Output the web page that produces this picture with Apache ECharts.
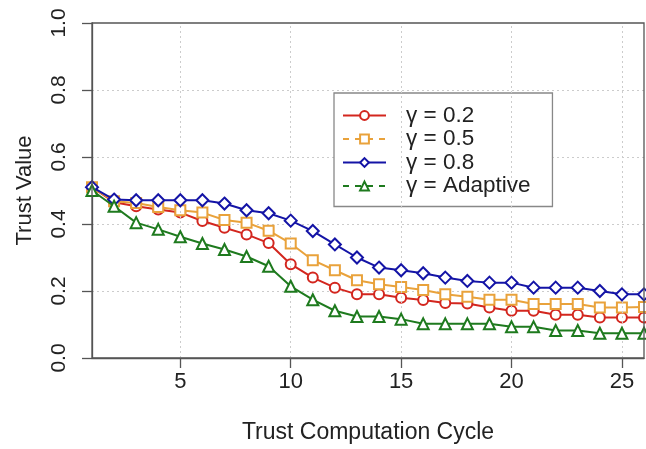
<!DOCTYPE html>
<html>
<head>
<meta charset="utf-8">
<script src="https://cdn.jsdelivr.net/npm/echarts@6/dist/echarts.min.js"></script>
<style>html,body{margin:0;padding:0;background:#fff;}#c{width:646px;height:449px;}</style>
</head>
<body>
<div id="c"></div>
<script>
const cycles = [1,2,3,4,5,6,7,8,9,10,11,12,13,14,15,16,17,18,19,20,21,22,23,24,25,26];
const gamma02 = [0.51,0.465,0.453,0.443,0.434,0.409,0.389,0.369,0.343,0.28,0.24,0.21,0.19,0.19,0.18,0.173,0.164,0.163,0.151,0.141,0.141,0.129,0.129,0.121,0.121,0.121];
const gamma05 = [0.51,0.468,0.463,0.451,0.441,0.434,0.412,0.404,0.38,0.342,0.292,0.262,0.232,0.22,0.212,0.203,0.19,0.183,0.174,0.174,0.161,0.161,0.161,0.151,0.151,0.152];
const gamma08 = [0.51,0.473,0.471,0.471,0.471,0.471,0.461,0.441,0.432,0.41,0.379,0.339,0.30,0.27,0.262,0.253,0.24,0.23,0.225,0.225,0.21,0.21,0.21,0.20,0.19,0.19];
const gammaAdaptive = [0.50,0.453,0.404,0.384,0.362,0.342,0.324,0.303,0.274,0.214,0.174,0.141,0.124,0.124,0.116,0.102,0.102,0.102,0.102,0.093,0.093,0.082,0.082,0.074,0.074,0.074];
const xTicks = [5,10,15,20,25];
const seriesNames = ['\u03b3 = 0.2','\u03b3 = 0.5','\u03b3 = 0.8','\u03b3 = Adaptive'];

const colors = ['#D3261E','#E9A23B','#1414A6','#1E7A1E'];
const symbols = ['emptyCircle','emptyRect','emptyDiamond','emptyTriangle'];
const sizes = [10,10,12,11];
const dataSets = [gamma02,gamma05,gamma08,gammaAdaptive];
const dashed = [false,true,false,true];
const font = 'Liberation Sans, Arial, sans-serif';

const gridSeries = {
  name:'vgrid',type:'line',data:[],silent:true,z:1,
  markLine:{silent:true,symbol:['none','none'],label:{show:false},
    lineStyle:{color:'#ccc',type:[2,3],width:1},
    data:xTicks.map(t=>({xAxis:t}))}
};

const chart = echarts.init(document.getElementById('c'), null, {renderer:'canvas'});
chart.setOption({
  animation:false,
  backgroundColor:'#fff',
  grid:{left:92,right:2,top:23,bottom:90,show:true,borderColor:'#555',borderWidth:1.3,z:20},
  legend:{
    orient:'vertical',left:334,top:93,
    backgroundColor:'#fff',borderColor:'#888',borderWidth:1.3,
    padding:[11,22,9,8],
    itemWidth:43,itemHeight:11,itemGap:0.5,
    textStyle:{fontFamily:font,fontSize:22.5,color:'#222',lineHeight:21.5,padding:[0,0,0,15]},
    data:seriesNames.map((n,i)=>({name:n,lineStyle:{type:dashed[i]?[6,6]:'solid',width:2}}))
  },
  xAxis:{
    type:'value',min:1,max:26,
    name:'Trust Computation Cycle',nameLocation:'middle',nameGap:63,
    nameTextStyle:{fontFamily:font,fontSize:23,color:'#222'},
    axisLine:{show:true,lineStyle:{color:'#555',width:1.3}},
    axisTick:{show:true,length:10,lineStyle:{color:'#555',width:1.3},customValues:xTicks},
    axisLabel:{fontFamily:font,fontSize:22,color:'#222',margin:13,customValues:xTicks},
    splitLine:{show:false}
  },
  yAxis:{
    type:'value',min:0,max:1,interval:0.2,
    name:'Trust Value',nameLocation:'middle',nameGap:56,nameRotate:90,
    nameTextStyle:{fontFamily:font,fontSize:22,color:'#222'},
    axisLine:{show:true,lineStyle:{color:'#555',width:1.3}},
    axisTick:{show:true,length:10,lineStyle:{color:'#555',width:1.3}},
    axisLabel:{fontFamily:font,fontSize:21,color:'#222',margin:22,rotate:90,formatter:v=>v.toFixed(1)},
    splitLine:{show:true,showMinLine:false,showMaxLine:false,lineStyle:{color:'#ccc',type:[2,3],width:1}}
  },
  series:[gridSeries].concat(dataSets.map((d,i)=>({
    name:seriesNames[i],type:'line',
    data:cycles.map((c,j)=>[c,d[j]]),
    symbol:symbols[i],symbolSize:sizes[i],
    lineStyle:{color:colors[i],width:2},
    itemStyle:{color:colors[i],borderWidth:2},
    z:3+i
  })))
});
</script>
</body>
</html>
